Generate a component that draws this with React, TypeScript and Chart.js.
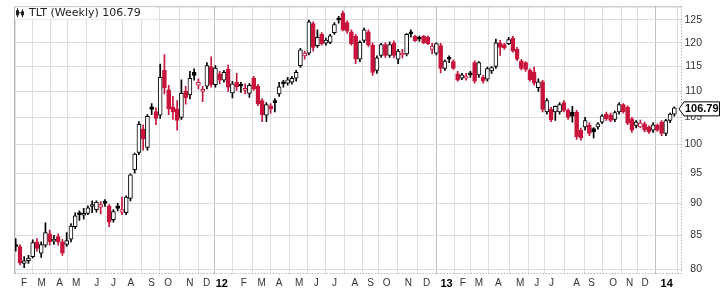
import React, { useEffect, useRef } from 'react';
import { Chart, registerables } from 'chart.js';

Chart.register(...registerables);

const title = 'TLT (Weekly) 106.79';
const lastPrice = 106.79;

const opens = [
  83.6, 83.3, 80.8, 81.2, 81.8, 84.0, 82.3, 83.5, 85.2, 84.1,
  84.8, 84.0, 83.6, 84.4, 86.3, 88.5, 88.1, 88.4, 89.5, 89.0,
  89.4, 90.3, 89.6, 87.4, 89.6, 88.6, 88.5, 90.8, 95.6, 98.6,
  102.8, 99.5, 107.0, 106.1, 105.4, 114.2, 110.3, 107.0, 106.6, 105.0,
  110.0, 109.3, 113.8, 111.2, 110.0, 111.0, 115.0, 111.3, 113.5, 112.2,
  114.4, 109.7, 111.8, 111.4, 110.2, 109.6, 112.6, 111.0, 108.2, 105.4,
  107.2, 108.2, 109.5, 111.8, 111.6, 111.8, 112.6, 115.2, 117.2, 117.8,
  124.2, 119.4, 121.8, 119.9, 120.1, 122.2, 125.4, 126.5, 124.4, 122.4,
  121.4, 116.5, 120.5, 122.4, 119.5, 114.2, 117.3, 119.6, 117.3, 120.0,
  116.5, 117.4, 117.6, 122.4, 121.4, 121.2, 121.4, 121.2, 118.6, 117.8,
  119.4, 114.6, 116.8, 116.0, 113.5, 112.6, 112.6, 113.6, 115.8, 113.3,
  112.8, 112.4, 114.1, 115.0, 120.0, 119.6, 119.8, 121.0, 118.6, 116.1,
  115.8, 114.2, 113.9, 110.7, 111.9, 106.0, 106.5, 106.0, 106.0, 107.8,
  106.3, 106.0, 106.0, 102.6, 103.2, 103.5, 102.9, 103.2, 104.1, 105.6,
  105.4, 104.6, 106.0, 107.4, 106.9, 104.7, 103.5, 103.2, 103.8, 103.2,
  102.6, 103.5, 104.1, 102.0, 104.4, 105.6,
];
const highs = [
  84.5, 83.6, 81.8, 82.0, 84.3, 84.5, 84.0, 86.9, 85.8, 85.0,
  85.2, 84.4, 85.4, 86.8, 88.5, 88.8, 89.2, 89.6, 90.4, 90.4,
  90.3, 90.6, 89.8, 89.0, 90.0, 91.0, 91.2, 94.9, 98.5, 104.2,
  103.6, 105.5, 107.6, 106.8, 115.5, 117.5, 111.2, 109.0, 108.2, 112.3,
  111.0, 114.0, 114.5, 112.5, 111.0, 115.8, 117.0, 115.2, 114.0, 114.2,
  115.3, 112.0, 113.6, 111.8, 111.5, 111.6, 113.0, 111.4, 108.6, 107.8,
  107.6, 108.6, 111.8, 112.2, 112.8, 113.0, 114.2, 118.8, 118.2, 125.0,
  124.6, 122.8, 122.2, 121.0, 121.8, 124.4, 125.8, 127.0, 124.8, 122.8,
  121.8, 120.4, 123.2, 122.8, 120.0, 117.2, 119.9, 120.0, 120.2, 120.4,
  118.6, 118.6, 122.0, 122.8, 121.6, 121.5, 121.6, 121.5, 119.9, 120.0,
  119.9, 116.4, 117.2, 116.4, 114.0, 113.6, 113.6, 114.0, 116.2, 116.0,
  113.2, 114.9, 115.0, 120.8, 120.5, 119.9, 121.2, 121.4, 119.0, 116.5,
  116.0, 114.5, 114.9, 112.5, 112.2, 108.6, 106.9, 107.2, 107.8, 108.2,
  106.6, 107.1, 106.3, 103.0, 105.0, 104.0, 103.1, 104.0, 105.5, 106.0,
  105.8, 106.2, 107.8, 107.6, 107.2, 105.0, 104.4, 104.5, 104.1, 103.4,
  104.0, 103.8, 104.4, 104.6, 105.8, 107.0,
];
const lows = [
  82.6, 80.6, 80.2, 80.8, 81.6, 82.6, 81.7, 83.2, 83.5, 83.6,
  83.5, 82.0, 83.3, 84.0, 86.0, 87.3, 87.5, 88.2, 88.5, 88.6,
  88.3, 89.5, 86.3, 87.0, 88.8, 88.2, 88.2, 90.4, 95.0, 98.2,
  99.0, 99.0, 105.5, 103.6, 104.8, 109.5, 105.5, 104.6, 102.6, 104.6,
  107.5, 108.5, 112.2, 110.5, 108.0, 110.5, 110.8, 110.8, 111.5, 111.8,
  110.0, 108.7, 110.2, 109.8, 109.5, 108.8, 110.2, 107.2, 104.2, 104.2,
  105.8, 106.0, 109.0, 110.8, 111.2, 111.4, 112.0, 114.8, 116.5, 117.4,
  118.2, 119.0, 119.5, 119.5, 119.8, 121.8, 124.3, 122.6, 122.0, 119.5,
  115.6, 116.0, 120.0, 119.2, 113.2, 113.6, 116.9, 116.9, 116.9, 116.8,
  115.6, 116.8, 117.2, 121.2, 120.3, 120.3, 119.8, 119.6, 117.6, 117.4,
  113.7, 114.2, 115.8, 114.4, 112.0, 112.3, 112.2, 112.8, 111.6, 112.8,
  111.6, 112.0, 113.6, 114.6, 117.3, 118.6, 119.6, 118.0, 116.2, 114.3,
  114.0, 112.0, 111.2, 110.0, 106.0, 105.6, 104.2, 104.4, 105.6, 106.0,
  104.6, 104.1, 100.9, 100.8, 102.6, 101.6, 101.2, 102.8, 103.8, 104.4,
  104.2, 104.2, 105.6, 105.8, 103.6, 102.2, 103.0, 103.0, 102.3, 102.0,
  102.2, 102.4, 101.6, 101.6, 104.0, 105.2,
];
const closes = [
  83.3, 80.9, 81.2, 81.6, 83.9, 83.0, 83.6, 85.4, 84.0, 84.4,
  84.0, 82.3, 84.2, 86.4, 88.0, 88.2, 88.4, 89.3, 89.8, 90.2,
  89.8, 90.0, 87.0, 88.7, 89.2, 89.0, 91.0, 94.7, 98.3, 103.7,
  101.0, 105.2, 106.5, 104.8, 112.8, 110.7, 106.6, 106.0, 104.4, 109.6,
  108.7, 112.6, 113.2, 111.8, 110.4, 115.2, 111.3, 114.7, 112.2, 113.8,
  110.8, 111.5, 110.9, 111.0, 110.6, 111.2, 110.5, 107.6, 105.5, 107.4,
  106.6, 107.8, 110.9, 111.5, 112.3, 112.6, 113.8, 118.5, 117.8, 124.6,
  119.0, 121.2, 119.8, 120.6, 121.5, 124.0, 125.0, 122.8, 122.5, 119.8,
  116.5, 120.1, 122.8, 119.5, 113.8, 116.8, 119.6, 117.3, 119.6, 117.3,
  118.2, 117.8, 121.8, 121.9, 120.4, 120.8, 120.0, 119.8, 119.3, 119.8,
  114.6, 116.1, 116.5, 114.6, 112.2, 113.3, 113.1, 113.3, 112.0, 115.8,
  112.0, 114.6, 114.8, 120.0, 119.0, 118.9, 120.7, 118.2, 116.5, 114.6,
  114.4, 112.3, 111.6, 111.9, 106.5, 108.2, 104.5, 107.1, 107.4, 106.3,
  105.0, 105.2, 101.4, 101.2, 104.4, 102.0, 102.3, 103.8, 105.3, 104.7,
  104.4, 105.9, 107.4, 106.0, 103.9, 102.6, 104.1, 103.9, 102.6, 102.3,
  103.6, 102.6, 102.0, 104.4, 105.6, 106.79,
];

const monthTickPos = [
  1.95, 6.1, 10.3, 14.2, 19.1, 23.0, 27.1, 32.0, 35.9, 41.0, 44.9, 48.5,
  53.7, 57.9, 62.0, 66.7, 70.7, 75.0, 79.8, 83.5, 87.3, 92.4, 96.7, 101.4,
  105.2, 109.0, 113.6, 118.7, 122.6, 126.1, 132.0, 135.5, 140.6, 144.5, 148.1, 153.2,
];
const monthTickLabels = [
  'F', 'M', 'A', 'M', 'J', 'J', 'A', 'S', 'O', 'N', 'D', '12',
  'F', 'M', 'A', 'M', 'J', 'J', 'A', 'S', 'O', 'N', 'D', '13',
  'F', 'M', 'A', 'M', 'J', 'J', 'A', 'S', 'O', 'N', 'D', '14',
];
const priceTicks = [80, 85, 90, 95, 100, 105, 110, 115, 120, 125];

const RED = '#c8143c';
const BLACK = '#000000';
const FONT = "'Liberation Sans', Arial, sans-serif";

const isYear = (label: string) => /^\d+$/.test(label);

const overlayPlugin = {
  id: 'overlay',
  afterDraw(chart: any) {
    const { ctx, chartArea: a, scales } = chart;
    ctx.save();
    // frame
    ctx.strokeStyle = '#b8b8b8';
    ctx.lineWidth = 1;
    ctx.beginPath();
    ctx.moveTo(a.left + 0.5, a.bottom);
    ctx.lineTo(a.left + 0.5, a.top + 0.5);
    ctx.lineTo(a.right, a.top + 0.5);
    ctx.stroke();
    ctx.setLineDash([1, 2]);
    ctx.strokeStyle = '#999';
    ctx.beginPath();
    ctx.moveTo(a.right - 0.5, a.top);
    ctx.lineTo(a.right - 0.5, a.bottom - 0.5);
    ctx.lineTo(a.left, a.bottom - 0.5);
    ctx.stroke();
    ctx.setLineDash([]);

    // title
    ctx.fillStyle = '#ffffff';
    ctx.fillRect(a.left + 1, a.top + 1, 140, 12);
    ctx.fillStyle = '#222';
    ctx.fillRect(a.left + 2, a.top + 4, 3, 5);
    ctx.fillRect(a.left + 3, a.top + 2, 1, 9);
    ctx.fillRect(a.left + 7, a.top + 5, 3, 4);
    ctx.fillRect(a.left + 8, a.top + 3, 1, 8);
    ctx.fillRect(a.left + 5, a.top + 6, 2, 1);
    ctx.font = `11px 'DejaVu Sans', Verdana, sans-serif`;
    ctx.fillStyle = '#222';
    ctx.textBaseline = 'middle';
    ctx.textAlign = 'left';
    ctx.fillText(title, a.left + 15, a.top + 7);

    // last price marker
    const y = scales.y.getPixelForValue(lastPrice) + 1;
    const x0 = a.right - 3;
    ctx.beginPath();
    ctx.moveTo(x0, y);
    ctx.lineTo(x0 + 5, y - 7);
    ctx.lineTo(719.5, y - 7);
    ctx.lineTo(719.5, y + 7);
    ctx.lineTo(x0 + 5, y + 7);
    ctx.closePath();
    ctx.fillStyle = '#ffffff';
    ctx.fill();
    ctx.strokeStyle = '#000';
    ctx.lineWidth = 1;
    ctx.stroke();
    ctx.fillStyle = '#000';
    ctx.font = `bold 11px ${FONT}`;
    ctx.textAlign = 'center';
    ctx.fillText(lastPrice.toFixed(2), (x0 + 5 + 719.5) / 2, y + 0.5);
    ctx.restore();
  },
};

export default function App() {
  const canvasRef = useRef<HTMLCanvasElement | null>(null);

  useEffect(() => {
    const canvas = canvasRef.current;
    if (!canvas) return;

    const colors = closes.map((c, i) => (i === 0 || c >= closes[i - 1] ? BLACK : RED));
    const fills = closes.map((c, i) => (c > opens[i] ? '#ffffff' : colors[i]));
    const wickData = closes.map((_, i) => ({ x: i, y: [lows[i], highs[i]] }));
    const bodyData = closes.map((c, i) => ({
      x: i,
      y: [Math.min(opens[i], c), Math.max(opens[i], c)],
    }));

    const chart = new Chart(canvas, {
      type: 'bar',
      data: {
        datasets: [
          {
            data: wickData as any,
            backgroundColor: colors,
            borderWidth: 0,
            barThickness: 1,
            grouped: false,
            order: 2,
          } as any,
          {
            data: bodyData as any,
            backgroundColor: fills,
            borderColor: colors,
            borderWidth: 1,
            borderSkipped: false,
            barThickness: 4,
            minBarLength: 2,
            grouped: false,
            order: 1,
          } as any,
        ],
      },
      plugins: [overlayPlugin],
      options: {
        animation: false,
        responsive: false,
        maintainAspectRatio: false,
        layout: { padding: { left: 14, top: 1, right: 18, bottom: 0 } },
        plugins: {
          legend: { display: false },
          tooltip: { enabled: false },
        },
        scales: {
          x: {
            type: 'linear',
            min: -0.4,
            max: 156.8,
            offset: false,
            afterBuildTicks: (s: any) => {
              s.ticks = monthTickPos.map((v) => ({ value: v }));
            },
            afterFit: (s: any) => {
              s.height = 20;
            },
            grid: {
              drawTicks: false,
              color: (ctx: any) =>
                isYear(monthTickLabels[ctx.index] || '') ? '#c0c0c0' : '#dedede',
              lineWidth: 1,
            },
            border: { display: false },
            ticks: {
              autoSkip: false,
              maxRotation: 0,
              minRotation: 0,
              padding: 3,
              callback: (_v: any, i: number) => monthTickLabels[i],
              font: (ctx: any) =>
                isYear(monthTickLabels[ctx.index] || '')
                  ? { family: FONT, size: 11, weight: 'bold' }
                  : { family: FONT, size: 10 },
              color: (ctx: any) =>
                isYear(monthTickLabels[ctx.index] || '') ? '#000' : '#333',
            },
          } as any,
          y: {
            type: 'logarithmic',
            position: 'right',
            min: 79.3,
            max: 128.1,
            afterBuildTicks: (s: any) => {
              s.ticks = priceTicks.map((v) => ({ value: v }));
            },
            afterFit: (s: any) => {
              s.width = 20;
            },
            grid: { drawTicks: false, color: '#dedede', lineWidth: 1 },
            border: { display: false },
            ticks: {
              padding: 0,
              crossAlign: 'far',
              callback: (v: any) => String(v),
              font: { family: FONT, size: 10.5 },
              color: '#333',
            },
          } as any,
        },
      },
    });

    return () => chart.destroy();
  }, []);

  return (
    <div
      style={{
        position: 'fixed',
        left: 0,
        top: 0,
        width: 720,
        height: 294,
        background: '#ffffff',
      }}
    >
      <canvas ref={canvasRef} width={720} height={294} style={{ display: 'block' }} />
    </div>
  );
}
